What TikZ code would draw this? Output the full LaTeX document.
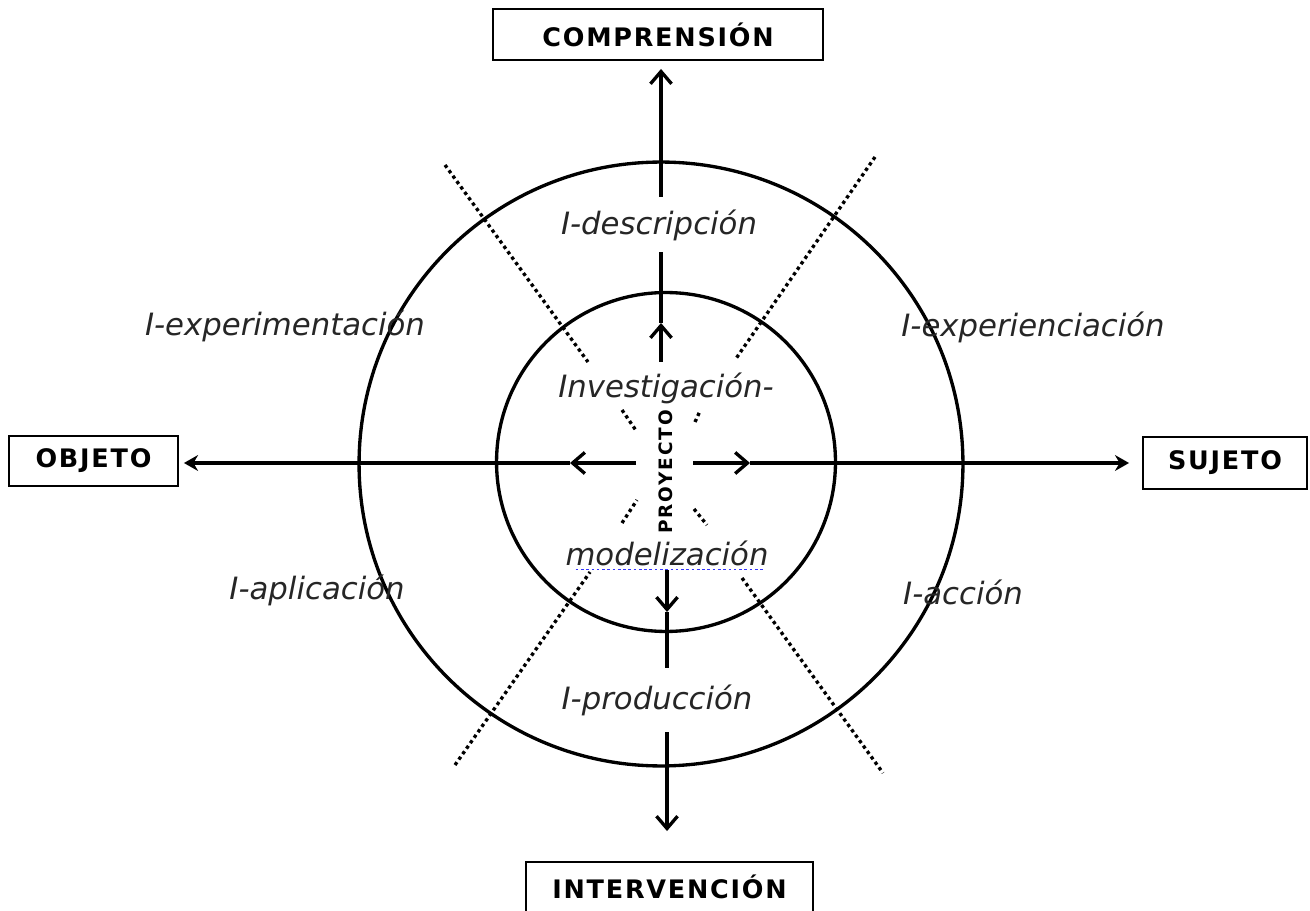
\documentclass[tikz,border=0pt]{standalone}
\usepackage{fontspec}
\setmainfont{DejaVu Sans}
\newfontfamily\boxfont[LetterSpace=7]{DejaVu Sans}
\newfontfamily\proyfont[LetterSpace=10]{DejaVu Sans}
\usetikzlibrary{arrows.meta}

\begin{document}
\begin{tikzpicture}[
    x=0.02cm, y=-0.02cm,
    ring/.style={circle, draw=black, line width=1.9pt, inner sep=0pt, outer sep=0pt},
    polebox/.style={rectangle, draw=black, line width=1.1pt, inner sep=0pt, font=\boxfont\fontsize{14.5}{16}\selectfont\bfseries},
    region/.style={font=\fontsize{17.5}{21}\selectfont\itshape, text=black!85, inner sep=0pt},
    axis/.style={line width=1.9pt},
    midtip/.style={-{Straight Barb[length=7pt,width=12pt]}},
    boxtip/.style={-{Stealth[length=8pt,width=9pt]}},
    divider/.style={line width=1.9pt, dash pattern=on 1.9pt off 1.9pt}
]
    \useasboundingbox (0,0) rectangle (1310,911);

    % circles
    \node[ring, minimum size=12.08cm] (outer) at (661,464) {};
    \node[ring, minimum size=6.78cm] (inner) at (666,462) {};

    % poles
    \node[polebox, minimum width=6.6cm, minimum height=1.02cm] (compr) at (658,34.5) {COMPRENSIÓN};
    \node[polebox, minimum width=5.74cm, minimum height=1cm] (interv) at (669.5,887) {INTERVENCIÓN};
    \node[polebox, minimum width=3.38cm, minimum height=1cm] (objeto) at (93.5,461) {OBJETO};
    \node[polebox, minimum width=3.28cm, minimum height=1.04cm] (sujeto) at (1225,463) {SUJETO};

    % regions
    \node[region] (desc) at (659,225) {I-descripción};
    \node[region] (experim) at (285,326) {I-experimentación};
    \node[region] (experien) at (1033,327) {I-experienciación};
    \node[region] (aplic) at (317,590) {I-aplicación};
    \node[region] (accion) at (963,592) {I-acción};
    \node[region] (prod) at (657,700) {I-producción};
    \node[region] (invest) at (666,388) {Investigación-};
    \node[region] (model) at (667,553) {modelización};
    \node[rotate=90, font=\proyfont\fontsize{10.5}{12}\selectfont\bfseries, inner sep=0pt] (proy) at (666,472) {PROYECTO};
    \draw[blue!80, line width=1.1pt, dash pattern=on 1.5pt off 1.5pt] ([xshift=6pt,yshift=-2.5pt]model.base west) -- ([xshift=-3pt,yshift=-2.5pt]model.base east);

    % axis points
    \coordinate (up0) at (661,362);
    \coordinate (upmid) at (661,323);
    \coordinate (up1) at (661,252);
    \coordinate (up2) at (661,197);
    \coordinate (dn0) at (667,570);
    \coordinate (dnmid) at (667,612);
    \coordinate (dn1) at (667,668);
    \coordinate (dn2) at (667,732);
    \coordinate (lf0) at (636,463);
    \coordinate (lfmid) at (570,463);
    \coordinate (rt0) at (693,463);
    \coordinate (rtmid) at (750,463);

    % axes
    \draw[axis, midtip] (up0) -- (upmid);
    \draw[axis] (upmid) -- (up1);
    \draw[axis, midtip, shorten >=0.16cm] (up2) -- (up2 |- compr.south);
    \draw[axis, midtip] (dn0) -- (dnmid);
    \draw[axis] (dnmid) -- (dn1);
    \draw[axis, midtip, shorten >=0.6cm] (dn2) -- (dn2 |- interv.north);
    \draw[axis, midtip] (lf0) -- (lfmid);
    \draw[axis, boxtip, shorten >=0.1cm] (lfmid) -- (lfmid -| objeto.east);
    \draw[axis, midtip] (rt0) -- (rtmid);
    \draw[axis, boxtip, shorten >=0.26cm] (rtmid) -- (rtmid -| sujeto.west);

    % dotted borders between regions
    \draw[divider] (445,165) -- (588,362);
    \draw[divider] (875,157) -- (735,360);
    \draw[divider] (455,765) -- (590,572);
    \draw[divider] (742,578) -- (883,773);
    \draw[divider] (622,410) -- (637,432);
    \draw[divider] (695,422) -- (700,411);
    \draw[divider] (622,523) -- (637,500);
    \draw[divider] (694,509) -- (707,525);
\end{tikzpicture}
\end{document}
